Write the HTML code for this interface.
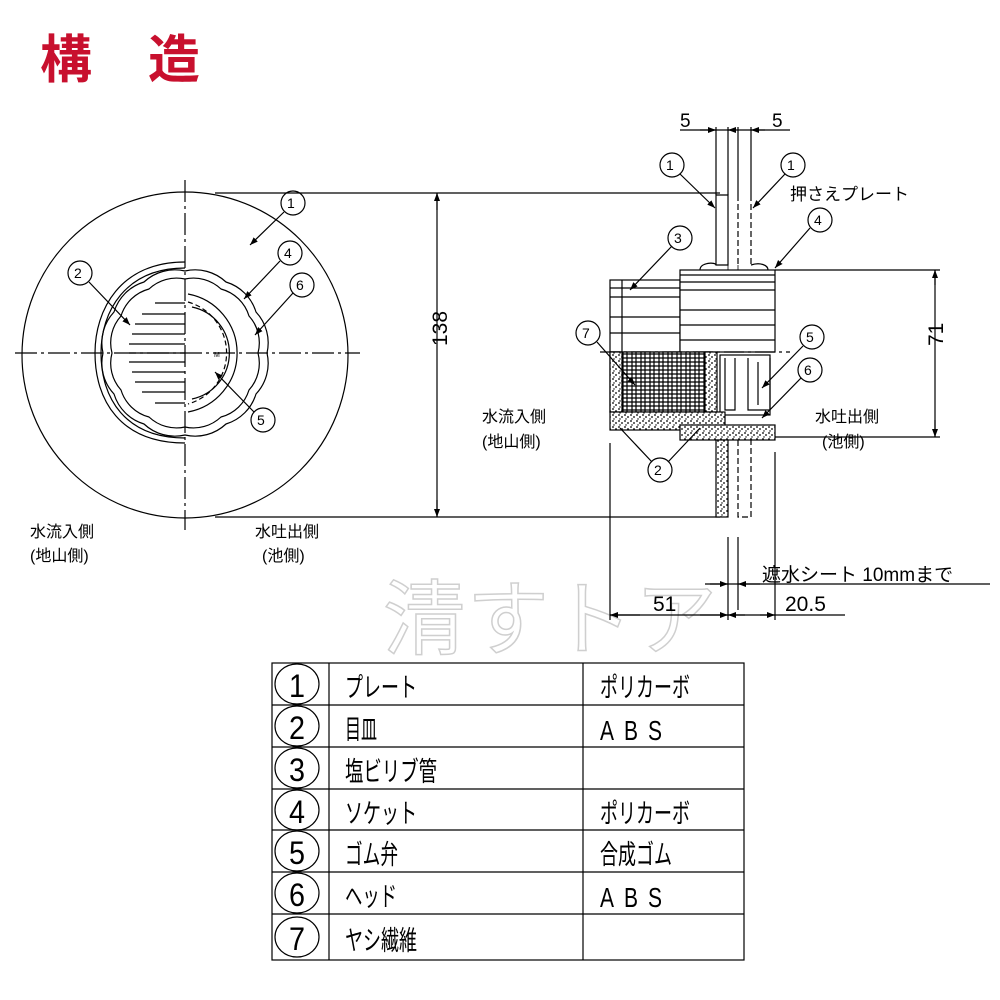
<!DOCTYPE html>
<html><head><meta charset="utf-8"><style>
html,body{margin:0;padding:0;background:#fff;width:1000px;height:1000px;overflow:hidden}
svg{display:block}
text{font-family:"Liberation Sans","Noto Sans CJK JP",sans-serif;fill:#000}
</style></head><body>
<svg width="1000" height="1000" viewBox="0 0 1000 1000">
<defs>
<pattern id="dots" width="6" height="6" patternUnits="userSpaceOnUse">
<rect width="6" height="6" fill="#fff"/><circle cx="1" cy="1" r="0.9" fill="#000"/><circle cx="4" cy="3" r="0.9" fill="#000"/><circle cx="2" cy="5" r="0.7" fill="#000"/>
</pattern>
<pattern id="grid" width="9" height="8" patternUnits="userSpaceOnUse">
<rect width="9" height="8" fill="#fff"/><path d="M2 0V8M6 0V8M0 2H9M0 6H9" stroke="#000" stroke-width="1.2"/>
</pattern>
<marker id="ar" markerWidth="8" markerHeight="6" refX="8" refY="3" orient="auto" markerUnits="userSpaceOnUse"><path d="M0 0L8 3L0 6z" fill="#000"/></marker>
</defs>

<text x="40" y="78" font-size="52" font-weight="bold" style="fill:#c8102e">構</text>
<text x="148" y="78" font-size="52" font-weight="bold" style="fill:#c8102e">造</text>

<text x="383" y="648" font-size="82" style="fill:#fff;stroke:#cfcfcf;stroke-width:1.5" letter-spacing="2">清すトア</text>

<g fill="none" stroke="#000" stroke-width="1.2">
<circle cx="185" cy="355" r="163"/>
<path d="M15 353H360" stroke-dasharray="22 4 3 4"/>
<path d="M185 180V530" stroke-dasharray="22 4 3 4"/>
<path d="M215 193H720M215 517H720"/>
<path d="M437 193V517"/>
<path d="M437 210V193" marker-end="url(#ar)"/><path d="M437 500V517" marker-end="url(#ar)"/>
<path d="M185 262 C120 262 95 310 95 353 C95 400 120 443 185 443"/>
<path d="M185 268 C125 268 101 312 101 353 C101 398 125 438 185 438"/>
<path d="M267 353 A45 45 0 0 1 256 394 A45 45 0 0 1 226 424 A45 45 0 0 1 185 435 A45 45 0 0 1 144 424 A45 45 0 0 1 114 394 A45 45 0 0 1 103 353 A45 45 0 0 1 114 312 A45 45 0 0 1 144 282 A45 45 0 0 1 185 271 A45 45 0 0 1 226 282 A45 45 0 0 1 256 312 A45 45 0 0 1 267 353Z"/>
<path d="M185 279 A40 40 0 0 0 149 289 A40 40 0 0 0 121 316 A40 40 0 0 0 112 353 A40 40 0 0 0 121 390 A40 40 0 0 0 149 417 A40 40 0 0 0 185 427"/>
<path d="M185 279 A40 40 0 0 1 221 289 A40 40 0 0 1 249 316 A40 40 0 0 1 258 353 A40 40 0 0 1 249 390 A40 40 0 0 1 221 417 A40 40 0 0 1 185 427"/>
<path d="M188 294 A60 60 0 0 1 188 412"/>
<path d="M188 302 A53 53 0 0 1 188 404" stroke-dasharray="5 3"/>
<path d="M192 307 A47 47 0 0 1 192 399"/>
<path d="M155 303H185M142 314H185M135 324H185M132 334H185M129 344H185M129 353H185M129 362H185M132 372H185M135 382H185M142 392H185M155 403H185"/>
<circle cx="293" cy="203" r="12"/><path d="M284 212L250 245" marker-end="url(#ar)"/>
<circle cx="80" cy="273" r="12"/><path d="M89 282L130 325" marker-end="url(#ar)"/>
<circle cx="290" cy="253" r="12"/><path d="M280 261L244 299" marker-end="url(#ar)"/>
<circle cx="302" cy="285" r="12"/><path d="M293 293L255 335" marker-end="url(#ar)"/>
<circle cx="263" cy="420" r="12"/><path d="M254 412L215 372" marker-end="url(#ar)"/>

<path d="M716 127V195M728 127V195M738 127V195M751 127V195"/>
<path d="M680 130H790"/>
<path d="M716 195V265H728V195Z" fill="#fff"/>
<path d="M738 195V265M751 195V265" stroke-dasharray="6 3"/>
<path d="M728 265V352M738 265V352" stroke-width="0.8"/>
<rect x="610" y="280" width="70" height="72" fill="#fff"/>
<path d="M610 288H680M610 297H680M610 317H680M610 333H680M622 280V352"/>
<rect x="680" y="270" width="95" height="82" fill="#fff"/>
<path d="M680 275H775M680 282H775M680 290H775M680 310H775M680 325H775M680 340H775"/>
<path d="M700 270C700 262 716 262 716 265M751 265C760 262 768 265 768 270"/>
<path d="M600 352H790" stroke-dasharray="20 4 3 4"/>
<rect x="610" y="352" width="100" height="60" fill="url(#grid)"/>
<rect x="610" y="352" width="12" height="60" fill="url(#dots)"/>
<rect x="705" y="352" width="12" height="60" fill="url(#dots)"/>
<rect x="720" y="355" width="50" height="60" fill="#fff"/>
<path d="M725 358V410H735V358M748 358V410H770V358M758 362V405"/>
<rect x="610" y="412" width="115" height="18" fill="url(#dots)"/>
<rect x="680" y="425" width="95" height="15" fill="url(#dots)"/>
<rect x="716" y="440" width="12" height="77" fill="url(#dots)"/>
<path d="M738 440V517H751V440" stroke-dasharray="6 3"/>
<path d="M728 537V620M738 537V610M610 443V620M775 452V620"/>
<path d="M705 584H990"/><path d="M710 584H728" marker-end="url(#ar)"/><path d="M760 584H738" marker-end="url(#ar)"/>
<path d="M610 615H845"/><path d="M640 615H610" marker-end="url(#ar)"/><path d="M700 615H728" marker-end="url(#ar)"/><path d="M745 615H728" marker-end="url(#ar)"/><path d="M760 615H775" marker-end="url(#ar)"/>
<path d="M775 270H940M775 437H940M935 270V437"/>
<path d="M935 285V270" marker-end="url(#ar)"/><path d="M935 420V437" marker-end="url(#ar)"/>
<path d="M700 130H716" marker-end="url(#ar)"/><path d="M735 130H728" marker-end="url(#ar)"/><path d="M765 130H751" marker-end="url(#ar)"/>
<circle cx="672" cy="165" r="12"/><path d="M680 174L715 208" marker-end="url(#ar)"/>
<circle cx="793" cy="165" r="12"/><path d="M785 174L753 208" marker-end="url(#ar)"/>
<circle cx="680" cy="238" r="12"/><path d="M672 246L630 290" marker-end="url(#ar)"/>
<circle cx="820" cy="220" r="12"/><path d="M810 228L775 268" marker-end="url(#ar)"/>
<circle cx="588" cy="333" r="12"/><path d="M597 342L635 385" marker-end="url(#ar)"/>
<circle cx="812" cy="337" r="12"/><path d="M803 346L762 388" marker-end="url(#ar)"/>
<circle cx="810" cy="370" r="12"/><path d="M801 378L762 418" marker-end="url(#ar)"/>
<circle cx="660" cy="470" r="12"/><path d="M652 462L620 428M668 462L700 428"/>

<rect x="272" y="663" width="472" height="297"/>
<path d="M272 705H744M272 747H744M272 789H744M272 830H744M272 872H744M272 914H744M329 663V960M583 663V960"/>
<ellipse cx="297" cy="684" rx="22" ry="20"/><ellipse cx="297" cy="726" rx="22" ry="20"/><ellipse cx="297" cy="768" rx="22" ry="20"/><ellipse cx="297" cy="810" rx="22" ry="20"/><ellipse cx="297" cy="851" rx="22" ry="20"/><ellipse cx="297" cy="893" rx="22" ry="20"/><ellipse cx="297" cy="937" rx="22" ry="20"/>
</g>

<g font-size="14">
<text x="287" y="208">1</text><text x="74" y="278">2</text><text x="284" y="258">4</text><text x="296" y="290">6</text><text x="257" y="425">5</text>
<text x="666" y="170">1</text><text x="787" y="170">1</text><text x="674" y="243">3</text><text x="814" y="225">4</text><text x="582" y="338">7</text><text x="806" y="342">5</text><text x="804" y="375">6</text><text x="654" y="475">2</text>
</g>
<text x="214" y="357" font-size="7">M</text>
<g font-size="19">
<text x="680" y="127">5</text><text x="772" y="127">5</text>
<text x="435" y="372" transform="rotate(-90 428 353)" font-size="21">138</text>
<text x="935" y="368" transform="rotate(-90 928 353)" font-size="21">71</text>
<text x="653" y="611" font-size="21">51</text>
<text x="785" y="611" font-size="21">20.5</text>
<text x="762" y="581">遮水シート 10mmまで</text>
<text x="790" y="200" font-size="17">押さえプレート</text>
</g>
<g font-size="16">
<text x="30" y="537">水流入側</text><text x="30" y="561">(地山側)</text>
<text x="255" y="537">水吐出側</text><text x="262" y="561">(池側)</text>
<text x="482" y="422">水流入側</text><text x="482" y="447">(地山側)</text>
<text x="815" y="422">水吐出側</text><text x="822" y="447">(池側)</text>
</g>
<g font-size="32">
<text x="289" y="697" textLength="16" lengthAdjust="spacingAndGlyphs">1</text><text x="289" y="739" textLength="16" lengthAdjust="spacingAndGlyphs">2</text><text x="289" y="781" textLength="16" lengthAdjust="spacingAndGlyphs">3</text><text x="289" y="823" textLength="16" lengthAdjust="spacingAndGlyphs">4</text><text x="289" y="864" textLength="16" lengthAdjust="spacingAndGlyphs">5</text><text x="289" y="906" textLength="16" lengthAdjust="spacingAndGlyphs">6</text><text x="289" y="950" textLength="16" lengthAdjust="spacingAndGlyphs">7</text>
</g>
<g font-size="27">
<text x="345" y="697" textLength="72" lengthAdjust="spacingAndGlyphs">プレート</text>
<text x="345" y="739" textLength="32" lengthAdjust="spacingAndGlyphs">目皿</text>
<text x="345" y="781" textLength="92" lengthAdjust="spacingAndGlyphs">塩ビリブ管</text>
<text x="345" y="823" textLength="72" lengthAdjust="spacingAndGlyphs">ソケット</text>
<text x="345" y="864" textLength="53" lengthAdjust="spacingAndGlyphs">ゴム弁</text>
<text x="345" y="906" textLength="52" lengthAdjust="spacingAndGlyphs">ヘッド</text>
<text x="345" y="950" textLength="72" lengthAdjust="spacingAndGlyphs">ヤシ繊維</text>
<text x="600" y="697" textLength="90" lengthAdjust="spacingAndGlyphs">ポリカーボ</text>
<text x="600" y="823" textLength="90" lengthAdjust="spacingAndGlyphs">ポリカーボ</text>
<text x="600" y="864" textLength="72" lengthAdjust="spacingAndGlyphs">合成ゴム</text>
</g>
<g font-size="28">
<text x="600" y="740" textLength="14" lengthAdjust="spacingAndGlyphs">A</text><text x="624" y="740" textLength="14" lengthAdjust="spacingAndGlyphs">B</text><text x="648" y="740" textLength="14" lengthAdjust="spacingAndGlyphs">S</text>
<text x="600" y="907" textLength="14" lengthAdjust="spacingAndGlyphs">A</text><text x="624" y="907" textLength="14" lengthAdjust="spacingAndGlyphs">B</text><text x="648" y="907" textLength="14" lengthAdjust="spacingAndGlyphs">S</text>
</g>
</svg>
</body></html>
